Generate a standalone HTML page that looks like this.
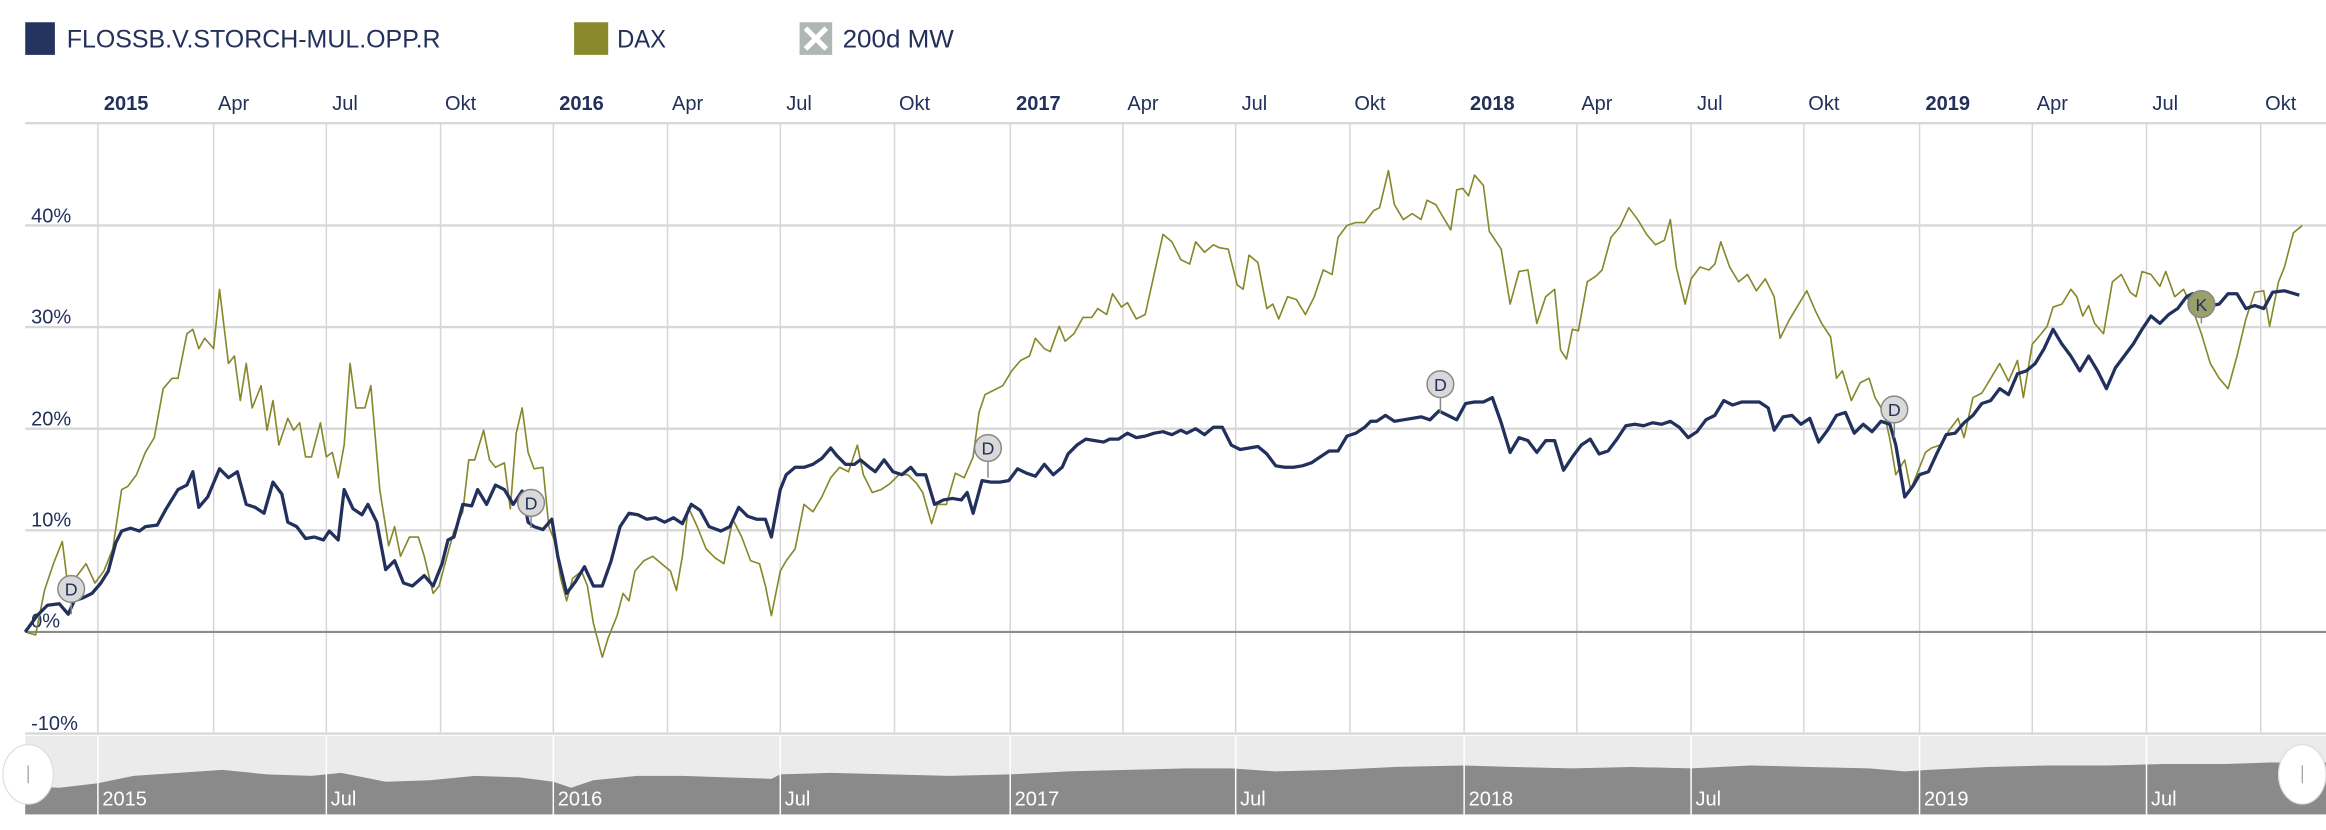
<!DOCTYPE html>
<html><head><meta charset="utf-8"><style>
html,body{margin:0;padding:0;background:#fff;}
svg{display:block;}
text{font-family:"Liberation Sans",sans-serif;fill:#22305a;}
</style></head><body>
<svg width="2326" height="830" viewBox="0 0 1568 559.5" preserveAspectRatio="none" xmlns="http://www.w3.org/2000/svg">
<!-- legend -->
<rect x="17" y="15" width="20" height="22" fill="#24335f"/>
<text x="45" y="32" font-size="17" textLength="252" lengthAdjust="spacingAndGlyphs">FLOSSB.V.STORCH-MUL.OPP.R</text>
<rect x="387" y="15" width="23" height="22" fill="#8a8a2c"/>
<text x="416" y="32" font-size="17" textLength="33" lengthAdjust="spacingAndGlyphs">DAX</text>
<rect x="539" y="15" width="22" height="22" fill="#b0b7b3"/>
<path d="M543,19 L557,33 M557,19 L543,33" stroke="#fff" stroke-width="3.5"/>
<text x="568" y="32" font-size="17" textLength="75" lengthAdjust="spacingAndGlyphs">200d MW</text>
<!-- vertical grid -->
<g stroke="#d6d6d6" stroke-width="1">
<line x1="66" y1="83" x2="66" y2="495"/><line x1="144" y1="83" x2="144" y2="495"/><line x1="220" y1="83" x2="220" y2="495"/><line x1="297" y1="83" x2="297" y2="495"/><line x1="373" y1="83" x2="373" y2="495"/><line x1="450" y1="83" x2="450" y2="495"/><line x1="526" y1="83" x2="526" y2="495"/><line x1="603" y1="83" x2="603" y2="495"/><line x1="681" y1="83" x2="681" y2="495"/><line x1="757" y1="83" x2="757" y2="495"/><line x1="833" y1="83" x2="833" y2="495"/><line x1="910" y1="83" x2="910" y2="495"/><line x1="987" y1="83" x2="987" y2="495"/><line x1="1063" y1="83" x2="1063" y2="495"/><line x1="1140" y1="83" x2="1140" y2="495"/><line x1="1216" y1="83" x2="1216" y2="495"/><line x1="1294" y1="83" x2="1294" y2="495"/><line x1="1370" y1="83" x2="1370" y2="495"/><line x1="1447" y1="83" x2="1447" y2="495"/><line x1="1524" y1="83" x2="1524" y2="495"/>
</g>
<g stroke="#d8d8d8" stroke-width="1.6">
<line x1="17" y1="83" x2="1568" y2="83"/><line x1="17" y1="152" x2="1568" y2="152"/><line x1="17" y1="220.5" x2="1568" y2="220.5"/><line x1="17" y1="289" x2="1568" y2="289"/><line x1="17" y1="357.5" x2="1568" y2="357.5"/><line x1="17" y1="494.5" x2="1568" y2="494.5"/>
</g>
<line x1="17" y1="426" x2="1568" y2="426" stroke="#8c8c8c" stroke-width="1.4"/>
<!-- top labels -->
<g font-size="13.5">
<text x="70" y="74" font-weight="bold">2015</text><text x="147" y="74">Apr</text><text x="224" y="74">Jul</text><text x="300" y="74">Okt</text>
<text x="377" y="74" font-weight="bold">2016</text><text x="453" y="74">Apr</text><text x="530" y="74">Jul</text><text x="606" y="74">Okt</text>
<text x="685" y="74" font-weight="bold">2017</text><text x="760" y="74">Apr</text><text x="837" y="74">Jul</text><text x="913" y="74">Okt</text>
<text x="991" y="74" font-weight="bold">2018</text><text x="1066" y="74">Apr</text><text x="1144" y="74">Jul</text><text x="1219" y="74">Okt</text>
<text x="1298" y="74" font-weight="bold">2019</text><text x="1373" y="74">Apr</text><text x="1451" y="74">Jul</text><text x="1527" y="74">Okt</text>
</g>
<g font-size="13.5">
<text x="21" y="150">40%</text><text x="21" y="218">30%</text><text x="21" y="287">20%</text><text x="21" y="355">10%</text><text x="21" y="423">0%</text><text x="21" y="492">-10%</text>
</g>
<!-- DAX -->
<polyline fill="none" stroke="#86882a" stroke-width="1.1" stroke-linejoin="round" points="17,426 24,428 30,398 36,380 42,365 46,397 52,388 58,380 64,393 70,385 76,370 82,330 86,328 92,320 98,305 104,295 110,262 116,255 120,255 126,225 130,222 134,235 138,228 144,235 148,195 154,245 158,240 162,270 166,245 170,275 176,260 180,290 184,270 188,300 194,282 198,290 202,285 206,308 210,308 216,285 220,308 224,305 228,322 232,300 236,245 240,275 246,275 250,260 256,330 262,368 266,355 270,375 276,362 282,362 286,375 292,400 296,395 300,380 306,358 312,345 316,310 320,310 326,290 330,310 334,315 340,312 344,343 348,292 352,275 356,305 360,316 366,315 370,355 374,365 378,390 382,405 386,390 392,385 396,395 400,420 406,443 410,430 416,415 420,400 424,405 428,385 434,378 440,375 446,380 452,385 456,398 460,375 464,342 470,355 476,370 482,376 488,380 494,350 500,362 506,378 512,380 516,395 520,415 526,385 530,378 536,370 542,340 548,345 554,335 560,322 566,315 572,318 578,300 582,320 588,332 594,330 600,326 606,320 612,320 618,326 622,332 628,353 632,340 638,340 644,319 650,322 656,308 660,278 664,266 670,263 676,260 682,250 688,243 694,240 698,228 704,235 708,237 714,220 718,230 724,225 730,214 736,214 740,208 746,212 750,198 756,207 760,204 766,215 772,212 778,185 784,158 790,163 796,175 802,178 806,163 812,170 818,165 822,167 828,168 834,192 838,195 842,172 848,177 854,208 858,205 862,215 868,200 874,202 880,212 886,200 892,182 898,185 902,160 908,152 914,150 920,150 926,142 930,140 936,115 940,138 946,148 952,144 958,148 962,135 968,138 972,145 978,155 982,128 986,127 990,132 994,118 1000,125 1004,156 1012,168 1018,205 1024,183 1030,182 1036,218 1042,200 1048,195 1052,236 1056,242 1060,222 1064,223 1070,190 1076,186 1080,182 1086,160 1092,153 1098,140 1104,148 1110,158 1116,165 1122,162 1126,148 1130,180 1136,205 1140,188 1146,180 1152,182 1156,178 1160,163 1166,180 1172,190 1178,185 1184,196 1190,188 1196,200 1200,228 1206,216 1212,206 1218,196 1224,210 1228,218 1234,227 1238,255 1242,250 1248,270 1254,258 1260,255 1264,268 1270,278 1274,296 1278,320 1284,310 1288,330 1292,320 1298,305 1302,302 1308,300 1314,290 1320,282 1324,295 1330,268 1336,265 1342,255 1348,245 1354,257 1360,243 1364,268 1370,232 1376,225 1380,220 1384,207 1390,205 1396,195 1400,200 1404,213 1408,206 1412,218 1418,225 1424,190 1430,185 1436,197 1440,200 1444,183 1450,185 1456,193 1460,183 1466,200 1472,195 1478,208 1484,225 1490,245 1496,255 1502,262 1508,240 1514,215 1520,197 1526,196 1530,220 1536,190 1540,180 1546,157 1552,152"/>
<!-- Fund -->
<polyline fill="none" stroke="#22305d" stroke-width="2.2" stroke-linejoin="round" points="17,426 25,415 32,408 40,407 46,414 50,405 56,403 62,400 68,393 73,385 78,366 82,358 88,356 94,358 98,355 106,354 112,343 120,330 126,327 130,318 134,342 140,335 148,316 154,322 160,318 166,340 172,342 178,346 184,325 190,333 194,352 200,355 206,363 212,362 218,364 222,358 228,364 232,330 238,343 244,347 248,340 254,352 260,384 266,378 272,393 278,395 286,388 292,395 298,380 302,364 306,362 312,340 318,341 322,330 328,340 334,327 340,330 346,340 352,331 356,352 360,355 366,357 372,350 376,375 382,400 388,392 394,382 400,395 406,395 412,378 418,355 424,346 430,347 436,350 442,349 448,352 454,349 460,353 466,340 472,344 478,355 486,358 492,355 498,342 504,348 510,350 516,350 520,362 526,330 530,320 536,315 542,315 548,313 554,309 560,302 564,307 570,313 576,313 580,310 586,315 590,318 596,310 602,318 608,320 614,315 618,320 624,320 630,340 636,337 642,336 648,337 652,332 656,346 662,324 668,325 674,325 680,324 686,316 692,319 698,321 704,313 710,320 716,315 720,306 726,300 732,296 738,297 744,298 748,296 754,296 760,292 766,295 772,294 778,292 784,291 790,293 796,290 800,292 806,289 812,293 818,288 824,288 830,300 836,303 842,302 848,301 854,306 860,314 866,315 872,315 878,314 884,312 890,308 896,304 902,304 908,294 914,292 920,288 924,284 928,284 934,280 940,284 946,283 952,282 958,281 964,283 970,277 976,280 982,283 988,272 994,271 1000,271 1006,268 1012,285 1018,305 1024,295 1030,297 1036,305 1042,297 1048,297 1054,317 1060,308 1066,300 1072,296 1078,306 1084,304 1090,296 1096,287 1102,286 1108,287 1114,285 1120,286 1126,284 1132,288 1138,295 1144,291 1150,283 1156,280 1162,270 1168,273 1174,271 1180,271 1186,271 1192,275 1196,290 1202,281 1208,280 1214,286 1220,282 1226,298 1232,290 1238,280 1244,278 1250,292 1256,286 1262,291 1268,284 1274,286 1278,300 1284,335 1290,327 1294,320 1300,318 1306,305 1312,293 1318,292 1324,285 1330,280 1336,272 1342,270 1348,262 1354,266 1360,252 1366,250 1372,245 1378,235 1384,222 1390,232 1396,240 1402,250 1408,240 1414,250 1420,262 1426,248 1432,240 1438,232 1444,222 1450,213 1456,218 1462,212 1468,208 1474,200 1478,198 1484,210 1490,206 1496,205 1502,198 1508,198 1514,208 1520,206 1526,208 1532,197 1540,196 1550,199"/>
<!-- markers -->
<g stroke="#888" stroke-width="1" font-size="12">
<line x1="48" y1="406" x2="48" y2="414"/><circle cx="48" cy="397" r="9" fill="#d9d9d9"/>
<line x1="358" y1="348" x2="358" y2="356"/><circle cx="358" cy="339" r="9" fill="#d9d9d9"/>
<line x1="666" y1="311" x2="666" y2="322"/><circle cx="666" cy="302" r="9" fill="#d9d9d9"/>
<line x1="971" y1="268" x2="971" y2="279"/><circle cx="971" cy="259" r="9" fill="#d9d9d9"/>
<line x1="1277" y1="285" x2="1277" y2="295"/><circle cx="1277" cy="276" r="9" fill="#d9d9d9"/>
<line x1="1484" y1="214" x2="1484" y2="218"/><circle cx="1484" cy="205" r="9" fill="#9aa06a"/>
</g>
<g font-size="12" text-anchor="middle" style="fill:#222">
<text x="48" y="401.5" fill="#222">D</text><text x="358" y="343.5" fill="#222">D</text><text x="666" y="306.5" fill="#222">D</text><text x="971" y="263.5" fill="#222">D</text><text x="1277" y="280.5" fill="#222">D</text><text x="1484" y="209.5" fill="#222">K</text>
</g>
<!-- navigator -->
<rect x="17" y="496" width="1551" height="53" fill="#ebebeb"/>
<polygon fill="#8a8a8a" points="17,549 17,530 40,531 66,528 90,523 120,521 150,519 180,522 210,523 230,521 260,527 290,526 320,523 350,524 373,527 385,531 400,526 430,523 460,523 490,524 520,525 526,522 560,521 600,522 640,523 681,522 720,520 760,519 800,518 830,518 860,520 900,519 940,517 987,516 1020,517 1060,518 1100,517 1140,518 1180,516 1220,517 1260,518 1284,520 1300,519 1340,517 1380,516 1420,516 1460,515 1500,515 1530,514 1550,514 1568,514 1568,549"/>
<g stroke="#fff" stroke-width="1">
<line x1="66" y1="496" x2="66" y2="549"/><line x1="220" y1="496" x2="220" y2="549"/><line x1="373" y1="496" x2="373" y2="549"/><line x1="526" y1="496" x2="526" y2="549"/><line x1="681" y1="496" x2="681" y2="549"/><line x1="833" y1="496" x2="833" y2="549"/><line x1="987" y1="496" x2="987" y2="549"/><line x1="1140" y1="496" x2="1140" y2="549"/><line x1="1294" y1="496" x2="1294" y2="549"/><line x1="1447" y1="496" x2="1447" y2="549"/>
</g>
<g font-size="13.5">
<text x="69" y="543" fill="#fff" style="fill:#fff">2015</text><text x="223" y="543" style="fill:#fff">Jul</text><text x="376" y="543" style="fill:#fff">2016</text><text x="529" y="543" style="fill:#fff">Jul</text><text x="684" y="543" style="fill:#fff">2017</text><text x="836" y="543" style="fill:#fff">Jul</text><text x="990" y="543" style="fill:#fff">2018</text><text x="1143" y="543" style="fill:#fff">Jul</text><text x="1297" y="543" style="fill:#fff">2019</text><text x="1450" y="543" style="fill:#fff">Jul</text>
</g>
<ellipse cx="19" cy="522" rx="17" ry="20" fill="#fff" stroke="#ddd" stroke-width="0.8"/>
<line x1="19" y1="516" x2="19" y2="528" stroke="#999" stroke-width="0.8"/>
<ellipse cx="1552" cy="522" rx="16" ry="20" fill="#fff" stroke="#ddd" stroke-width="0.8"/>
<line x1="1552" y1="516" x2="1552" y2="528" stroke="#999" stroke-width="0.8"/>
</svg>
</body></html>
